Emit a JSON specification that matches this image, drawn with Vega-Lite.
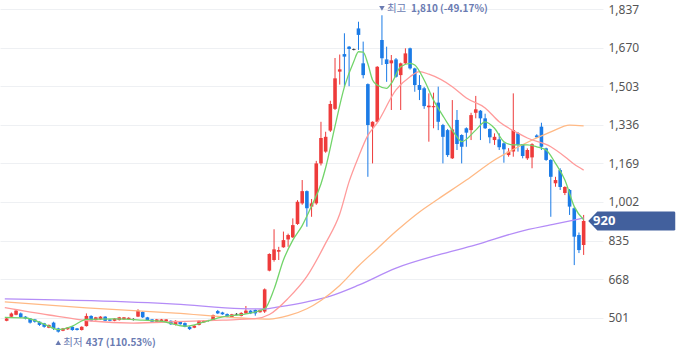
{
  "$schema": "https://vega.github.io/schema/vega-lite/v6.json",
  "width": 603,
  "height": 358,
  "padding": 0,
  "autosize": {"type": "pad"},
  "background": "white",
  "config": {"view": {"stroke": null}},
  "datasets": {
    "candles": [
      {"i":0,"o":488,"h":500,"l":486,"c":498},{"i":1,"o":506,"h":524,"l":504,"c":520},{"i":2,"o":514,"h":535,"l":512,"c":532},{"i":3,"o":520,"h":524,"l":500,"c":503},{"i":4,"o":506,"h":508,"l":494,"c":498},{"i":5,"o":498,"h":500,"l":476,"c":480},{"i":6,"o":494,"h":496,"l":480,"c":484},{"i":7,"o":484,"h":486,"l":466,"c":470},{"i":8,"o":477,"h":479,"l":458,"c":462},{"i":9,"o":458,"h":472,"l":456,"c":470},
      {"i":10,"o":480,"h":484,"l":448,"c":455},{"i":11,"o":455,"h":458,"l":437,"c":441},{"i":12,"o":445,"h":457,"l":443,"c":455},{"i":13,"o":451,"h":461,"l":449,"c":459},{"i":14,"o":462,"h":465,"l":445,"c":448},{"i":15,"o":455,"h":457,"l":446,"c":448},{"i":16,"o":448,"h":464,"l":446,"c":462},{"i":17,"o":465,"h":520,"l":463,"c":509},{"i":18,"o":509,"h":512,"l":485,"c":488},{"i":19,"o":491,"h":505,"l":489,"c":503},
      {"i":20,"o":494,"h":508,"l":492,"c":506},{"i":21,"o":506,"h":508,"l":486,"c":488},{"i":22,"o":494,"h":496,"l":486,"c":488},{"i":23,"o":488,"h":500,"l":486,"c":498},{"i":24,"o":491,"h":505,"l":489,"c":503},{"i":25,"o":494,"h":504,"l":492,"c":503},{"i":26,"o":494,"h":503,"l":493,"c":501},{"i":27,"o":493,"h":499,"l":489,"c":496},{"i":28,"o":506,"h":538,"l":504,"c":532},{"i":29,"o":526,"h":530,"l":500,"c":503},
      {"i":30,"o":503,"h":505,"l":488,"c":491},{"i":31,"o":494,"h":496,"l":481,"c":484},{"i":32,"o":484,"h":496,"l":482,"c":494},{"i":33,"o":484,"h":496,"l":482,"c":494},{"i":34,"o":486,"h":495,"l":484,"c":494},{"i":35,"o":488,"h":490,"l":470,"c":473},{"i":36,"o":470,"h":490,"l":468,"c":488},{"i":37,"o":483,"h":485,"l":471,"c":473},{"i":38,"o":478,"h":481,"l":460,"c":462},{"i":39,"o":462,"h":465,"l":448,"c":452},
      {"i":40,"o":458,"h":469,"l":456,"c":467},{"i":41,"o":470,"h":490,"l":468,"c":488},{"i":42,"o":481,"h":490,"l":479,"c":488},{"i":43,"o":487,"h":492,"l":485,"c":490},{"i":44,"o":491,"h":515,"l":489,"c":513},{"i":45,"o":530,"h":535,"l":517,"c":520},{"i":46,"o":524,"h":527,"l":514,"c":516},{"i":47,"o":517,"h":520,"l":503,"c":506},{"i":48,"o":503,"h":518,"l":501,"c":516},{"i":49,"o":515,"h":521,"l":512,"c":518},
      {"i":50,"o":509,"h":525,"l":507,"c":522},{"i":51,"o":520,"h":552,"l":518,"c":532},{"i":52,"o":532,"h":534,"l":517,"c":520},{"i":53,"o":535,"h":537,"l":510,"c":520},{"i":54,"o":525,"h":537,"l":523,"c":535},{"i":55,"o":528,"h":628,"l":522,"c":624},{"i":56,"o":705,"h":780,"l":702,"c":777},{"i":57,"o":751,"h":884,"l":744,"c":797},{"i":58,"o":787,"h":808,"l":751,"c":794},{"i":59,"o":806,"h":874,"l":804,"c":837},
      {"i":60,"o":840,"h":865,"l":808,"c":859},{"i":61,"o":849,"h":931,"l":846,"c":902},{"i":62,"o":907,"h":1010,"l":903,"c":1003},{"i":63,"o":996,"h":1097,"l":990,"c":1049},{"i":64,"o":1049,"h":1052,"l":895,"c":975},{"i":65,"o":982,"h":1015,"l":938,"c":996},{"i":66,"o":996,"h":1180,"l":990,"c":1169},{"i":67,"o":1169,"h":1349,"l":1160,"c":1279},{"i":68,"o":1220,"h":1306,"l":1215,"c":1284},{"i":69,"o":1311,"h":1440,"l":1305,"c":1426},
      {"i":70,"o":1405,"h":1625,"l":1400,"c":1537},{"i":71,"o":1566,"h":1640,"l":1510,"c":1576},{"i":72,"o":1642,"h":1732,"l":1499,"c":1631},{"i":73,"o":1674,"h":1677,"l":1503,"c":1664},{"i":74,"o":1661,"h":1666,"l":1658,"c":1664},{"i":75,"o":1753,"h":1782,"l":1660,"c":1725},{"i":76,"o":1602,"h":1696,"l":1537,"c":1551},{"i":77,"o":1512,"h":1515,"l":1111,"c":1335},{"i":78,"o":1328,"h":1351,"l":1169,"c":1349},{"i":79,"o":1349,"h":1590,"l":1345,"c":1587},
      {"i":80,"o":1703,"h":1810,"l":1595,"c":1624},{"i":81,"o":1619,"h":1674,"l":1522,"c":1599},{"i":82,"o":1602,"h":1638,"l":1400,"c":1615},{"i":83,"o":1619,"h":1625,"l":1540,"c":1544},{"i":84,"o":1551,"h":1605,"l":1400,"c":1602},{"i":85,"o":1602,"h":1667,"l":1598,"c":1645},{"i":86,"o":1667,"h":1670,"l":1575,"c":1580},{"i":87,"o":1580,"h":1583,"l":1479,"c":1508},{"i":88,"o":1508,"h":1551,"l":1443,"c":1487},{"i":89,"o":1494,"h":1500,"l":1405,"c":1417},
      {"i":90,"o":1412,"h":1472,"l":1263,"c":1419},{"i":91,"o":1412,"h":1475,"l":1321,"c":1417},{"i":92,"o":1432,"h":1501,"l":1313,"c":1349},{"i":93,"o":1335,"h":1340,"l":1169,"c":1284},{"i":94,"o":1313,"h":1318,"l":1197,"c":1205},{"i":95,"o":1191,"h":1443,"l":1188,"c":1316},{"i":96,"o":1357,"h":1400,"l":1227,"c":1253},{"i":97,"o":1292,"h":1295,"l":1169,"c":1241},{"i":98,"o":1321,"h":1325,"l":1241,"c":1302},{"i":99,"o":1313,"h":1388,"l":1270,"c":1378},
      {"i":100,"o":1388,"h":1461,"l":1364,"c":1403},{"i":101,"o":1397,"h":1400,"l":1270,"c":1364},{"i":102,"o":1364,"h":1384,"l":1318,"c":1321},{"i":103,"o":1318,"h":1320,"l":1256,"c":1282},{"i":104,"o":1270,"h":1299,"l":1249,"c":1284},{"i":105,"o":1273,"h":1299,"l":1227,"c":1239},{"i":106,"o":1256,"h":1260,"l":1172,"c":1230},{"i":107,"o":1205,"h":1235,"l":1198,"c":1220},{"i":108,"o":1220,"h":1472,"l":1198,"c":1313},{"i":109,"o":1299,"h":1305,"l":1220,"c":1249},
      {"i":110,"o":1252,"h":1253,"l":1191,"c":1201},{"i":111,"o":1191,"h":1234,"l":1184,"c":1227},{"i":112,"o":1195,"h":1256,"l":1148,"c":1252},{"i":113,"o":1290,"h":1295,"l":1280,"c":1282},{"i":114,"o":1328,"h":1345,"l":1227,"c":1241},{"i":115,"o":1234,"h":1237,"l":1180,"c":1184},{"i":116,"o":1184,"h":1187,"l":938,"c":1111},{"i":117,"o":1083,"h":1111,"l":1068,"c":1097},{"i":118,"o":1140,"h":1148,"l":1054,"c":1067},{"i":119,"o":1041,"h":1070,"l":1032,"c":1067},
      {"i":120,"o":1054,"h":1058,"l":946,"c":982},{"i":121,"o":975,"h":980,"l":729,"c":852},{"i":122,"o":859,"h":870,"l":781,"c":794},{"i":123,"o":816,"h":946,"l":773,"c":920}
    ],
    "ma": [
      {"k":"ma120","i":-0.4,"v":583},{"k":"ma120","i":18,"v":575},{"k":"ma120","i":36,"v":560},{"k":"ma120","i":50,"v":541},{"k":"ma120","i":55,"v":539},{"k":"ma120","i":58,"v":548},{"k":"ma120","i":64,"v":570},{"k":"ma120","i":69,"v":595},{"k":"ma120","i":75,"v":642},{"k":"ma120","i":83,"v":716},{"k":"ma120","i":92,"v":773},{"k":"ma120","i":100,"v":816},{"k":"ma120","i":109,"v":872},{"k":"ma120","i":117,"v":907},{"k":"ma120","i":123,"v":933},
      {"k":"ma60","i":-0.4,"v":570},{"k":"ma60","i":17,"v":544},{"k":"ma60","i":36,"v":521},{"k":"ma60","i":50,"v":500},{"k":"ma60","i":56,"v":495},{"k":"ma60","i":60,"v":510},{"k":"ma60","i":64,"v":540},{"k":"ma60","i":67,"v":576},{"k":"ma60","i":71,"v":641},{"k":"ma60","i":75,"v":725},{"k":"ma60","i":79,"v":800},{"k":"ma60","i":83,"v":875},{"k":"ma60","i":88,"v":959},{"k":"ma60","i":92,"v":1015},{"k":"ma60","i":98,"v":1097},{"k":"ma60","i":104,"v":1184},{"k":"ma60","i":109,"v":1240},{"k":"ma60","i":116,"v":1305},{"k":"ma60","i":120,"v":1335},{"k":"ma60","i":123,"v":1331},
      {"k":"ma20","i":-0.4,"v":545},{"k":"ma20","i":9,"v":513},{"k":"ma20","i":18,"v":487},{"k":"ma20","i":27,"v":478},{"k":"ma20","i":36,"v":484},{"k":"ma20","i":46,"v":491},{"k":"ma20","i":53,"v":497},{"k":"ma20","i":56,"v":515},{"k":"ma20","i":60,"v":585},{"k":"ma20","i":64,"v":680},{"k":"ma20","i":68,"v":824},{"k":"ma20","i":71,"v":950},{"k":"ma20","i":73,"v":1090},{"k":"ma20","i":75,"v":1197},{"k":"ma20","i":77,"v":1290},{"k":"ma20","i":79,"v":1344},{"k":"ma20","i":83,"v":1487},{"k":"ma20","i":86,"v":1544},{"k":"ma20","i":88,"v":1566},{"k":"ma20","i":90,"v":1555},{"k":"ma20","i":95,"v":1501},{"k":"ma20","i":98,"v":1452},{"k":"ma20","i":102,"v":1409},{"k":"ma20","i":105,"v":1349},{"k":"ma20","i":109,"v":1300},{"k":"ma20","i":111,"v":1279},{"k":"ma20","i":116,"v":1241},{"k":"ma20","i":119,"v":1198},{"k":"ma20","i":121,"v":1165},{"k":"ma20","i":123,"v":1140},
      {"k":"ma5","i":-0.4,"v":503},{"k":"ma5","i":4,"v":500},{"k":"ma5","i":8,"v":474},{"k":"ma5","i":11,"v":450},{"k":"ma5","i":14,"v":465},{"k":"ma5","i":17,"v":494},{"k":"ma5","i":23,"v":496},{"k":"ma5","i":29,"v":491},{"k":"ma5","i":33,"v":486},{"k":"ma5","i":38,"v":465},{"k":"ma5","i":42,"v":482},{"k":"ma5","i":46,"v":505},{"k":"ma5","i":51,"v":518},{"k":"ma5","i":55,"v":540},{"k":"ma5","i":57,"v":625},{"k":"ma5","i":59,"v":751},{"k":"ma5","i":61,"v":837},{"k":"ma5","i":63,"v":900},{"k":"ma5","i":65,"v":985},{"k":"ma5","i":67,"v":1080},{"k":"ma5","i":68,"v":1150},{"k":"ma5","i":70,"v":1330},{"k":"ma5","i":72,"v":1500},{"k":"ma5","i":74,"v":1610},{"k":"ma5","i":75,"v":1652},{"k":"ma5","i":76,"v":1650},{"k":"ma5","i":77,"v":1600},{"k":"ma5","i":78,"v":1530},{"k":"ma5","i":79,"v":1508},{"k":"ma5","i":81,"v":1494},{"k":"ma5","i":82,"v":1515},{"k":"ma5","i":84,"v":1587},{"k":"ma5","i":86,"v":1602},{"k":"ma5","i":87,"v":1595},{"k":"ma5","i":89,"v":1530},{"k":"ma5","i":91,"v":1443},{"k":"ma5","i":93,"v":1375},{"k":"ma5","i":94,"v":1342},{"k":"ma5","i":96,"v":1284},{"k":"ma5","i":97,"v":1263},{"k":"ma5","i":100,"v":1313},{"k":"ma5","i":102,"v":1349},{"k":"ma5","i":104,"v":1321},{"k":"ma5","i":106,"v":1263},{"k":"ma5","i":108,"v":1249},{"k":"ma5","i":111,"v":1249},{"k":"ma5","i":113,"v":1241},{"k":"ma5","i":115,"v":1227},{"k":"ma5","i":117,"v":1169},{"k":"ma5","i":119,"v":1097},{"k":"ma5","i":121,"v":982},{"k":"ma5","i":123,"v":925}
    ],
    "hi": [{"i":80,"v":1810,"a":"최고","b":"1,810 (-49.17%)"}],
    "lo": [{"i":11,"v":437,"a":"최저","b":"437 (110.53%)"}]
  },
  "layer": [
    {
      "data": {"name": "candles"},
      "mark": {"type": "rule", "strokeWidth": 1},
      "encoding": {
        "x": {"field": "i", "type": "quantitative", "scale": {"domain": [-0.356, 126.06], "nice": false, "zero": false}, "axis": null},
        "y": {"field": "l", "type": "quantitative", "scale": {"domain": [327, 1876], "nice": false, "zero": false},
          "axis": {"orient": "right", "values": [501, 668, 835, 1002, 1169, 1336, 1503, 1670, 1837], "format": ",d", "title": null, "domain": false, "ticks": false, "labelPadding": 5, "labelFont": "Noto Sans", "labelFontSize": 12, "labelColor": "#555555", "gridColor": "#eef0f3", "gridWidth": 1}},
        "y2": {"field": "h"},
        "color": {"condition": [{"test": "abs(datum.c - datum.o) <= 3", "value": "#333333"}, {"test": "datum.c > datum.o", "value": "#ee3b3b"}], "value": "#1b7be6"}
      }
    },
    {
      "data": {"name": "candles"},
      "mark": {"type": "bar", "width": 3.6},
      "encoding": {
        "x": {"field": "i", "type": "quantitative"},
        "y": {"field": "o", "type": "quantitative"},
        "y2": {"field": "c"},
        "color": {"condition": [{"test": "abs(datum.c - datum.o) <= 3", "value": "#333333"}, {"test": "datum.c > datum.o", "value": "#ee3b3b"}], "value": "#1b7be6"}
      }
    },
    {
      "data": {"name": "ma"},
      "mark": {"type": "line", "strokeWidth": 1.3, "interpolate": "monotone"},
      "encoding": {
        "x": {"field": "i", "type": "quantitative"},
        "y": {"field": "v", "type": "quantitative"},
        "color": {"field": "k", "type": "nominal", "scale": {"domain": ["ma120", "ma60", "ma20", "ma5"], "range": ["#b48cf7", "#ffb985", "#ff9b9b", "#72d46a"]}, "legend": null}
      }
    },
    {
      "data": {"name": "hi"},
      "layer": [
        {"mark": {"type": "point", "shape": "triangle-down", "filled": true, "opacity": 1, "size": 30, "color": "#6a7bb2", "yOffset": -7}},
        {"mark": {"type": "text", "align": "left", "baseline": "middle", "font": "Noto Sans CJK KR", "fontSize": 10.5, "color": "#6a7bb2", "dx": 5, "dy": -6}, "encoding": {"text": {"field": "a"}}},
        {"mark": {"type": "text", "align": "left", "baseline": "middle", "font": "Noto Sans CJK KR", "fontSize": 10, "fontWeight": "bold", "color": "#6a7bb2", "dx": 29, "dy": -6}, "encoding": {"text": {"field": "b"}}}
      ],
      "encoding": {
        "x": {"field": "i", "type": "quantitative"},
        "y": {"field": "v", "type": "quantitative"}
      }
    },
    {
      "data": {"name": "lo"},
      "layer": [
        {"mark": {"type": "point", "shape": "triangle-up", "filled": true, "opacity": 1, "size": 30, "color": "#6a7bb2", "yOffset": 10}},
        {"mark": {"type": "text", "align": "left", "baseline": "middle", "font": "Noto Sans CJK KR", "fontSize": 10.5, "color": "#6a7bb2", "dx": 5, "dy": 10}, "encoding": {"text": {"field": "a"}}},
        {"mark": {"type": "text", "align": "left", "baseline": "middle", "font": "Noto Sans CJK KR", "fontSize": 10, "fontWeight": "bold", "color": "#6a7bb2", "dx": 27.5, "dy": 10}, "encoding": {"text": {"field": "b"}}}
      ],
      "encoding": {
        "x": {"field": "i", "type": "quantitative"},
        "y": {"field": "v", "type": "quantitative"}
      }
    },
    {
      "data": {"name": "candles"},
      "transform": [{"filter": "datum.i == 123"}],
      "layer": [
        {"mark": {"type": "point", "filled": true, "opacity": 1, "size": 7569, "shape": "M -1 0 L -0.79 -0.22 L 0.97 -0.22 Q 1 -0.22 1 -0.19 L 1 0.19 Q 1 0.22 0.97 0.22 L -0.79 0.22 Z", "color": "#42609d", "strokeWidth": 0},
         "encoding": {"x": {"datum": 133.25, "type": "quantitative"}}},
        {"mark": {"type": "text", "align": "left", "baseline": "middle", "font": "Noto Sans", "fontSize": 13, "fontWeight": "bold", "color": "white"},
         "encoding": {"x": {"datum": 125.0, "type": "quantitative"}, "text": {"field": "c", "type": "quantitative", "format": ",d"}}}
      ],
      "encoding": {
        "y": {"field": "c", "type": "quantitative"}
      }
    }
  ]
}
